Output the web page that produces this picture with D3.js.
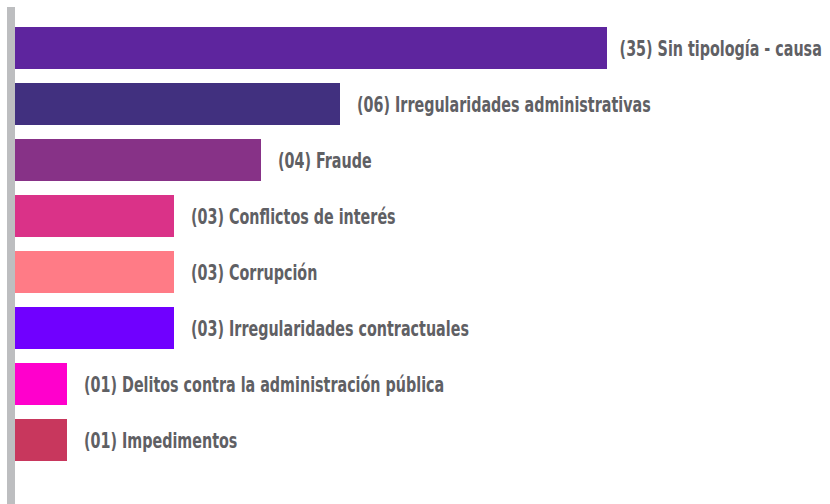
<!DOCTYPE html>
<html>
<head>
<meta charset="utf-8">
<script src="https://cdn.jsdelivr.net/npm/d3@7"></script>
<style>
  body { margin: 0; background: #fff; }
  .label { font-family: "DejaVu Sans", sans-serif; font-stretch: condensed; font-weight: bold; fill: #5f6064; }
</style>
</head>
<body>
<div id="chart"></div>
<script>
const categories = ["Sin tipología - causa", "Irregularidades administrativas", "Fraude", "Conflictos de interés",
  "Corrupción", "Irregularidades contractuales", "Delitos contra la administración pública", "Impedimentos"];
const values = [35, 6, 4, 3, 3, 3, 1, 1];
const colors = ["#5e259e", "#41307f", "#873287", "#da3288", "#ff7b86", "#7000ff", "#ff00cc", "#c8375d"];

// bar lengths in the source grow in steps, not in proportion
const lengthSteps = [0, 1, 3, 4, 6, 35];
const lengthPx = [0, 52, 159, 246, 325, 592];

function chart () {
  const W = 830, H = 504;
  const margin = {top: 27, left: 15};

  let svg = d3.select('#chart')
    .append('svg')
    .attr('width', W)
    .attr('height', H);

  let xScale = d3.scaleLinear()
    .domain(lengthSteps)
    .range(lengthPx.map(d => d + margin.left));

  let yScale = d3.scaleBand()
    .domain(categories)
    .range([margin.top, 461])
    .paddingInner(0.25)
    .paddingOuter(0);

  // left axis bar
  svg.append('rect')
    .attr('x', 7)
    .attr('y', 7)
    .attr('width', 8)
    .attr('height', H - 7)
    .style('fill', '#bdbec0');

  let rows = svg.selectAll('.row')
    .data(categories)
    .enter().append('g')
    .attr('class', 'row');

  rows.append('rect')
    .attr('x', margin.left)
    .attr('y', d => yScale(d))
    .attr('width', (d, i) => xScale(values[i]) - margin.left)
    .attr('height', yScale.bandwidth())
    .style('fill', (d, i) => colors[i]);

  let labels = rows.append('text')
    .attr('class', 'label')
    .attr('dy', '0.36em')
    .style('font-size', '22px')
    .text((d, i) => `(${d3.format('02d')(values[i])}) ${d}`);

  // squeeze the glyphs horizontally so the labels run as narrow as the condensed face of the original
  let k = 294 / labels.nodes()[1].getComputedTextLength();
  labels.each(function (d, i) {
    let len = this.getComputedTextLength() * k;
    let x = Math.min(xScale(values[i]) + 17, W - 8 - len);
    let y = yScale(d) + yScale.bandwidth() / 2;
    d3.select(this).attr('transform', `translate(${x}, ${y}) scale(${k}, 1)`);
  });
}
chart();
</script>
</body>
</html>
